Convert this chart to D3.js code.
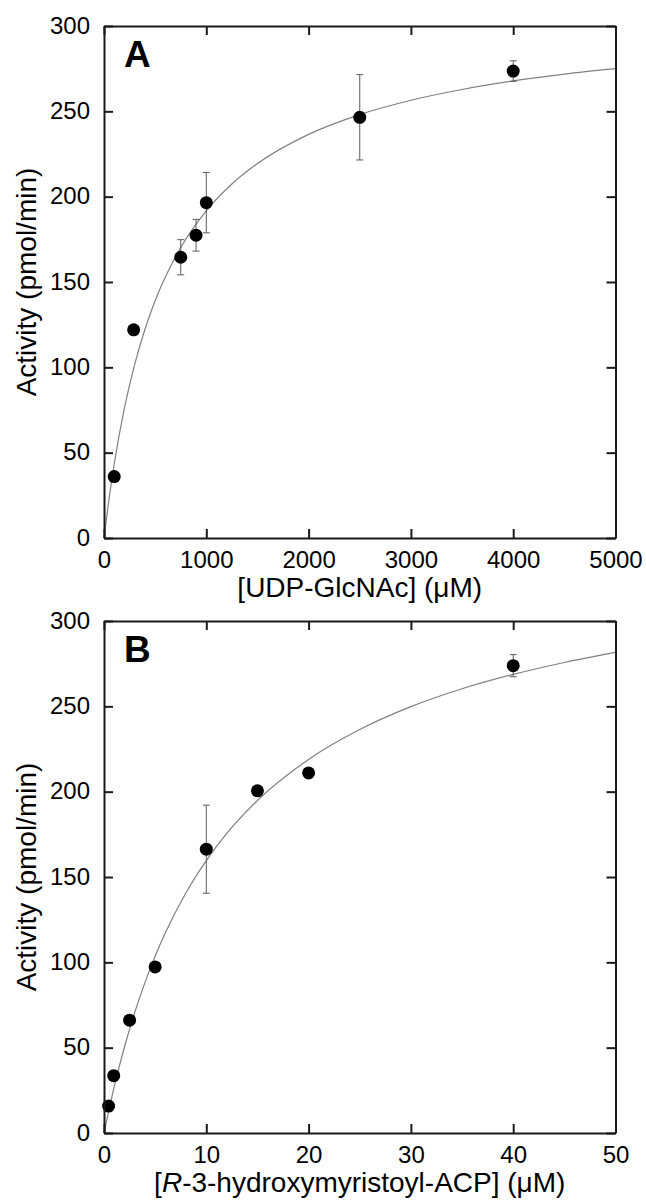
<!DOCTYPE html>
<html>
<head>
<meta charset="utf-8">
<script src="https://d3js.org/d3.v7.min.js"></script>
<style>
  body { margin: 0; background: #fff; }
  text { font-family: "Liberation Sans", Arial, sans-serif; fill: #000; }
</style>
</head>
<body>
<div id="chart"></div>
<script>

// Panel A: UDP-GlcNAc titration
var udpConc = [100, 290, 750, 900, 1000, 2500, 4000];
var udpActivity = [36, 122, 164.5, 177.4, 196.5, 246.5, 273.6];
var udpError = [0, 0, 10.3, 9.3, 17.7, 25, 6];
// fitted curve
var udpFitX = [0, 50, 100, 200, 300, 400, 500, 750, 1000, 1250, 1500, 2000, 2500, 3000, 3500, 4000, 4500, 5000];
var udpFitY = [0, 23.4, 43.5, 76.2, 101.7, 122.2, 139.0, 170.2, 191.7, 207.4, 219.4, 236.5, 248.1, 256.5, 262.8, 267.8, 271.8, 275.0];
var udpTicksX = [0, 1000, 2000, 3000, 4000, 5000];

// Panel B: R-3-hydroxymyristoyl-ACP titration
var acpConc = [0.45, 0.95, 2.5, 5, 10, 15, 20, 40];
var acpActivity = [15.8, 33.6, 66.1, 97.3, 166.3, 200.5, 211, 273.8];
var acpError = [0, 0, 0, 0, 25.8, 0, 0, 6.5];
var acpFitX = [0, 1, 2, 3, 4, 5, 6, 8, 10, 12, 15, 20, 25, 30, 35, 40, 45, 50];
var acpFitY = [0, 27.2, 50.4, 70.5, 88.1, 103.6, 117.3, 140.6, 159.6, 175.5, 194.8, 218.9, 236.4, 249.8, 260.3, 268.7, 275.7, 281.6];
var acpTicksX = [0, 10, 20, 30, 40, 50];

var activityTicks = [0, 50, 100, 150, 200, 250, 300];

var width = 646, height = 1203;
var left = 104, plotW = 511.5, plotH = 512;

var svg = d3.select("#chart").append("svg")
    .attr("width", width)
    .attr("height", height);

function drawPanel(opts) {
  var top = opts.top;
  var x = d3.scaleLinear().domain(opts.xDomain).range([left, left + plotW]);
  var y = d3.scaleLinear().domain([0, 300]).range([top + plotH, top]);

  var g = svg.append("g");

  // fitted curve
  var line = d3.line()
      .x(function(d) { return x(d[0]); })
      .y(function(d) { return y(d[1]); })
      .curve(d3.curveMonotoneX);
  g.append("path")
      .datum(d3.zip(opts.fitX, opts.fitY))
      .attr("d", line)
      .attr("fill", "none")
      .attr("stroke", "#808080")
      .attr("stroke-width", 1.2);

  // error bars
  var pts = opts.xs.map(function(v, i) { return {x: v, y: opts.ys[i], e: opts.err[i]}; });
  var eb = g.selectAll(".err").data(pts.filter(function(d) { return d.e > 0; }))
      .enter().append("g").attr("class", "err")
      .attr("stroke", "#5a5a5a").attr("stroke-width", 1);
  eb.append("line")
      .attr("x1", function(d) { return x(d.x); }).attr("x2", function(d) { return x(d.x); })
      .attr("y1", function(d) { return y(d.y - d.e); }).attr("y2", function(d) { return y(d.y + d.e); });
  eb.append("line")
      .attr("x1", function(d) { return x(d.x) - 3.5; }).attr("x2", function(d) { return x(d.x) + 3.5; })
      .attr("y1", function(d) { return y(d.y + d.e); }).attr("y2", function(d) { return y(d.y + d.e); });
  eb.append("line")
      .attr("x1", function(d) { return x(d.x) - 3.5; }).attr("x2", function(d) { return x(d.x) + 3.5; })
      .attr("y1", function(d) { return y(d.y - d.e); }).attr("y2", function(d) { return y(d.y - d.e); });

  // points
  g.selectAll("circle").data(pts).enter().append("circle")
      .attr("cx", function(d) { return x(d.x); })
      .attr("cy", function(d) { return y(d.y); })
      .attr("r", 6.5)
      .attr("fill", "#000");

  // axes: ticks inward on all four sides, labels on bottom and left
  var axisB = d3.axisBottom(x).tickValues(opts.ticksX).tickSizeInner(-9).tickSizeOuter(0).tickPadding(14).tickFormat(d3.format("d"));
  var axisT = d3.axisTop(x).tickValues(opts.ticksX).tickSizeInner(-9).tickSizeOuter(0).tickFormat("");
  var axisL = d3.axisLeft(y).tickValues(activityTicks).tickSizeInner(-9).tickSizeOuter(0).tickPadding(14).tickFormat(d3.format("d"));
  var axisR = d3.axisRight(y).tickValues(activityTicks).tickSizeInner(-9).tickSizeOuter(0).tickFormat("");

  var ax = [
    g.append("g").attr("transform", "translate(0," + (top + plotH) + ")").call(axisB),
    g.append("g").attr("transform", "translate(0," + top + ")").call(axisT),
    g.append("g").attr("transform", "translate(" + left + ",0)").call(axisL),
    g.append("g").attr("transform", "translate(" + (left + plotW) + ",0)").call(axisR)
  ];
  ax.forEach(function(a) {
    a.select(".domain").attr("stroke", "#1a1a1a").attr("stroke-width", 2);
    a.selectAll(".tick line").attr("stroke", "#1a1a1a").attr("stroke-width", 2);
    a.selectAll(".tick text").attr("font-size", 24).attr("font-family", "Liberation Sans, Arial, sans-serif").attr("fill", "#000");
  });
  ax[0].selectAll(".tick text").attr("dy", null).attr("y", 30);
  ax[2].selectAll(".tick text").attr("dy", null).attr("y", 7).attr("x", -14);

  // panel letter
  g.append("text")
      .attr("x", left + 20)
      .attr("y", top + 41)
      .attr("font-size", 37)
      .attr("font-weight", "bold")
      .text(opts.letter);

  // y title
  g.append("text")
      .attr("transform", "translate(36," + (top + plotH / 2) + ") rotate(-90)")
      .attr("text-anchor", "middle")
      .attr("font-size", 28)
      .text("Activity (pmol/min)");

  // x title
  var xt = g.append("text")
      .attr("x", left + plotW / 2)
      .attr("y", top + plotH + 59)
      .attr("text-anchor", "middle")
      .attr("font-size", 28);
  opts.xTitle(xt);
}

drawPanel({
  top: 26, letter: "A", xDomain: [0, 5000], ticksX: udpTicksX,
  xs: udpConc, ys: udpActivity, err: udpError, fitX: udpFitX, fitY: udpFitY,
  xTitle: function(t) {
    t.append("tspan").text("[UDP-GlcNAc] (\u03bcM)");
  }
});

drawPanel({
  top: 621, letter: "B", xDomain: [0, 50], ticksX: acpTicksX,
  xs: acpConc, ys: acpActivity, err: acpError, fitX: acpFitX, fitY: acpFitY,
  xTitle: function(t) {
    t.append("tspan").text("[");
    t.append("tspan").attr("font-style", "italic").text("R");
    t.append("tspan").text("-3-hydroxymyristoyl-ACP] (\u03bcM)");
  }
});

</script>
</body>
</html>
